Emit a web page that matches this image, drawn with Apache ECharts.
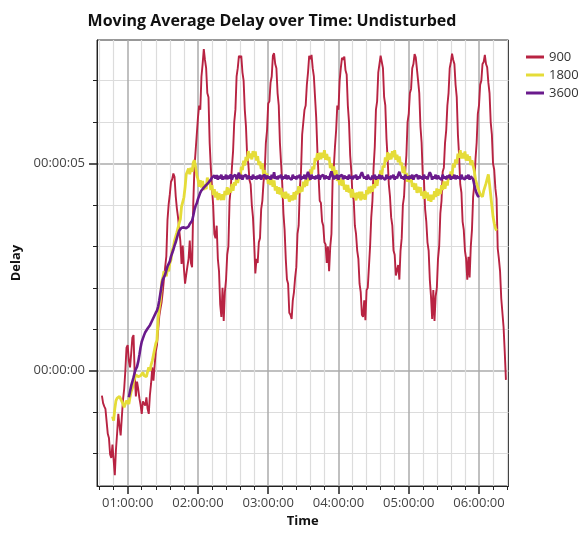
<!DOCTYPE html>
<html><head><meta charset="utf-8">
<script src="https://cdn.jsdelivr.net/npm/echarts@6/dist/echarts.min.js"></script>
<style>html,body{margin:0;padding:0;background:#fff}#c{width:580px;height:533px}</style>
</head><body><div id="c"></div>
<script>
// ---- data (time in minutes, delay in seconds) ----
const seriesNames = ['900', '1800', '3600'];

const start900 = 38; // minute of first value, one value per minute
const s900 = [
-0.60,-0.78,-0.86,-0.92,-1.22,-1.52,-1.62,-2.02,-2.10,-1.78,
-1.74,-2.52,-1.90,-1.50,-1.04,-1.32,-1.56,-1.12,-0.70,-0.44,
0.00,0.56,0.62,0.24,0.08,0.42,0.80,0.86,-0.10,-0.62,
-0.26,-0.44,-0.66,-0.82,-1.04,-0.74,-0.72,-0.84,-0.64,-0.92,
-1.04,-0.58,-0.30,0.08,-0.24,0.12,0.46,0.62,0.98,1.32,
1.50,1.66,1.92,2.22,2.50,2.76,3.64,4.02,4.26,4.56,
4.62,4.76,4.68,4.22,3.92,3.70,3.40,3.12,2.58,3.02,
2.48,2.10,2.32,2.52,2.70,3.14,2.60,2.50,4.02,4.90,
5.30,5.70,6.10,6.40,6.30,7.10,7.40,7.76,7.50,7.30,
6.70,6.60,5.50,4.90,4.40,4.00,3.30,3.20,3.50,2.70,
2.40,1.60,1.30,2.00,1.20,1.90,2.20,2.80,3.00,4.10,
4.40,4.90,5.30,6.00,6.30,7.10,7.30,7.60,7.55,7.60,
7.20,7.00,6.30,5.90,5.20,5.00,4.60,4.50,4.00,3.70,
3.10,2.35,2.70,2.60,3.10,3.20,3.90,4.10,4.55,4.80,
5.50,5.80,6.45,6.50,6.95,7.10,7.60,7.66,7.40,7.30,
6.70,6.40,5.50,5.00,4.50,3.80,3.40,2.70,2.20,2.10,
1.40,1.35,1.25,1.70,1.90,2.25,2.50,3.30,3.50,4.40,
4.80,5.70,5.70,6.30,6.40,6.90,7.20,7.60,7.52,7.62,
7.30,7.10,6.60,6.10,5.30,4.70,4.10,4.05,3.60,3.50,
3.10,3.05,2.60,3.00,2.40,3.00,3.30,4.60,4.90,5.40,
5.80,6.40,6.30,7.00,7.30,7.55,7.50,7.58,7.25,7.15,
6.40,6.00,5.20,4.80,4.20,4.15,3.50,3.30,2.90,2.70,
2.10,1.90,1.35,1.30,1.70,1.22,1.95,2.00,2.50,3.00,
3.70,4.10,4.90,5.40,6.30,6.50,7.20,7.40,7.60,7.45,
7.30,6.60,6.40,5.60,5.10,4.50,4.20,3.70,3.50,2.90,
2.80,2.30,2.30,2.55,2.20,2.90,3.20,4.00,4.20,4.80,
5.20,6.00,6.20,6.70,6.80,7.30,7.40,7.64,7.56,7.58,
7.00,6.70,5.90,5.50,4.70,4.60,3.90,3.60,3.10,2.90,
2.20,1.80,1.25,1.95,1.20,1.80,2.00,2.70,3.00,3.80,
4.10,4.80,4.90,5.50,5.80,6.40,6.70,7.30,7.45,7.65,
7.50,7.40,6.90,6.60,5.70,5.20,4.50,4.30,3.60,3.40,
2.90,2.70,2.20,2.75,2.25,3.00,3.40,4.20,4.50,5.10,
5.50,6.20,6.40,6.90,7.00,7.40,7.45,7.62,7.40,7.32,
6.95,6.70,6.00,5.70,5.00,4.85,4.40,4.15,2.95,2.70,
2.40,1.75,1.40,1.05,0.45,-0.22
];

const start1800 = 47;
const s1800 = [
-1.10,-1.20,-0.92,-0.72,-0.66,-0.70,-0.62,-0.66,-0.74,-0.80,
-0.88,-0.84,-0.72,-0.76,-0.80,-0.64,-0.50,-0.42,-0.26,-0.18,
-0.10,-0.06,-0.14,-0.18,-0.12,-0.08,-0.04,-0.12,-0.16,-0.14,
-0.02,0.08,0.00,0.14,0.24,0.28,0.52,0.66,0.74,1.26,
1.52,1.72,2.14,2.24,2.40,2.34,2.28,2.46,2.40,2.60,
2.68,2.90,2.98,3.14,3.12,3.34,3.36,3.56,3.66,3.96,
3.98,4.18,4.42,4.74,4.74,4.88,4.74,4.90,4.80,5.02,
5.08,4.92,4.72,4.62,4.44,4.60,4.42,4.58,4.36,4.50,
4.38,4.66,4.50,4.58,4.36,4.48,4.24,4.38,4.18,4.32,
4.12,4.28,
4.30,4.12,4.26,4.12,4.34,4.24,4.43,4.25,4.40,4.30,
4.51,4.34,4.55,4.47,4.67,4.53,4.71,4.63,4.92,4.84,
5.07,4.95,5.16,5.06,5.30,5.13,5.24,5.10,5.30,5.16,
5.29,5.07,5.18,4.96,5.05,4.87,5.00,4.73,4.84,4.68,
4.76,4.51,4.64,4.48,4.63,4.44,4.59,4.35,4.45,4.27,
4.43,4.25,4.41,4.18,4.31,4.15,4.32,4.16,4.27,4.08,
4.11,4.23,4.11,4.31,4.13,4.34,4.26,4.45,4.29,4.44,
4.32,4.56,4.43,4.61,4.46,4.66,4.58,4.86,4.75,4.93,
4.86,5.13,5.06,5.25,5.09,5.26,5.10,5.26,5.14,5.32,
5.09,5.23,5.08,5.16,4.89,5.00,4.81,4.93,4.71,4.84,
4.58,4.67,4.48,4.64,4.46,4.61,4.37,4.49,4.32,4.48,
4.30,4.39,4.18,4.38,4.18,4.29,4.11,4.30,4.16,4.32,
4.11,4.32,4.14,4.26,4.13,4.36,4.26,4.44,4.28,4.46,
4.32,4.50,4.41,4.63,4.46,4.68,4.63,4.83,4.70,4.95,
4.90,5.15,5.05,5.27,5.09,5.24,5.10,5.30,5.15,5.32,
5.09,5.21,5.03,5.17,4.96,5.02,4.77,4.93,4.69,4.77,
4.56,4.72,4.55,4.68,4.44,4.53,4.37,4.52,4.29,4.44,
4.30,4.43,4.22,4.32,4.15,4.34,4.16,4.30,4.10,4.25,
4.08,4.25,4.13,4.33,4.19,4.40,4.22,4.38,4.26,4.48,
4.36,4.57,4.39,4.57,4.47,4.71,4.62,4.81,4.70,5.00,
4.90,5.10,5.00,5.24,5.14,5.32,5.12,5.25,5.12,5.29,
5.07,5.22,5.07,5.18,
4.96,5.08,4.94,4.82,4.62,4.60,4.42,4.40,4.26,4.30,
4.20,4.34,4.36,4.52,4.56,4.74,4.50,4.24,3.98,3.72,
3.56,3.44,3.38
];

const start3600 = 61;
const s3600 = [
-0.64,-0.50,-0.36,-0.26,-0.16,-0.04,0.04,0.10,0.22,0.38,
0.56,0.70,0.78,0.86,0.93,0.96,1.02,1.06,1.10,1.16,
1.22,1.28,1.34,1.40,1.45,1.55,1.70,1.88,2.06,2.20,
2.26,2.32,2.42,2.52,2.58,2.64,2.76,2.84,2.92,3.02,
3.10,3.20,3.30,3.38,3.42,3.45,3.44,3.46,3.42,3.44,
3.45,3.48,3.54,3.58,3.62,3.74,3.88,3.98,4.04,4.14,
4.22,4.30,4.35,4.38,4.42,4.44,4.48,4.50,4.54,4.58,
4.61,4.66,4.63,4.71,4.64,4.72,4.61,4.70,4.64,4.73,
4.61,4.69,4.63,4.73,4.62,4.71,4.64,4.74,4.61,4.69,
4.65,4.73,4.62,4.69,4.78,4.63,4.73,4.61,4.69,4.65,
4.73,4.62,4.71,4.64,4.69,4.61,4.73,4.64,4.69,4.62,
4.71,4.64,4.73,4.61,4.69,4.65,4.73,4.62,4.71,4.64,
4.69,4.61,4.73,4.64,4.79,4.63,4.69,4.62,4.71,4.65,
4.73,4.61,4.69,4.64,4.73,4.62,4.71,4.65,4.69,4.61,
4.73,4.64,4.69,4.62,4.71,4.65,4.73,4.61,4.69,4.64,
4.73,4.62,4.71,4.80,4.69,4.61,4.73,4.64,4.69,4.62,
4.71,4.64,4.73,4.61,4.69,4.65,4.73,4.62,4.71,4.64,
4.69,4.61,4.73,4.81,4.69,4.62,4.71,4.64,4.73,4.61,
4.69,4.65,4.73,4.62,4.71,4.64,4.69,4.61,4.73,4.64,
4.69,4.62,4.71,4.65,4.73,4.61,4.69,4.64,4.73,4.79,
4.71,4.64,4.69,4.61,4.73,4.65,4.69,4.62,4.71,4.64,
4.73,4.61,4.69,4.64,4.73,4.62,4.71,4.65,4.69,4.61,
4.73,4.64,4.69,4.62,4.71,4.65,4.73,4.61,4.69,4.64,
4.73,4.80,4.71,4.64,4.69,4.61,4.73,4.64,4.69,4.62,
4.71,4.64,4.73,4.61,4.69,4.65,4.73,4.62,4.71,4.64,
4.69,4.61,4.73,4.64,4.69,4.62,4.71,4.79,4.73,4.61,
4.69,4.64,4.73,4.62,4.71,4.65,4.69,4.61,4.73,4.64,
4.69,4.62,4.71,4.65,4.73,4.61,4.69,4.64,4.73,4.62,
4.71,4.64,4.69,4.61,4.73,4.65,4.69,4.62,4.71,4.64,
4.73,4.61,4.69,4.65,4.62,4.48,4.36,4.28,4.22,4.19
];

// axis ticks (x in minutes, y in seconds)
const xRange = [33.8, 385.2];
const yRange = [-2.78, 7.98];
const xMajorTicks = [60, 120, 180, 240, 300, 360];
const xMinorTicks = [36, 48, 72, 84, 96, 108, 132, 144, 156, 168, 192, 204, 216, 228,
                     252, 264, 276, 288, 312, 324, 336, 348, 372, 384];
const yMajorTicks = [0, 5];
const yMinorTicks = [-2, -1, 1, 2, 3, 4, 6, 7];

// ---- chart ----
const FONT = 'Open Sans';
const colors = ['#b82342', '#e5dc38', '#6a1a8c'];
const pad = n => String(n).padStart(2, '0');
const fmtMin = m => { const s = Math.round(m * 60); return pad(Math.floor(s / 3600)) + ':' + pad(Math.floor(s % 3600 / 60)) + ':' + pad(s % 60); };
const fmtSec = v => { const s = Math.round(v); return '00:00:' + pad(s); };
const toPairs = (start, arr) => arr.map((v, i) => [start + i, v]);

const chart = echarts.init(document.getElementById('c'), null, {renderer: 'canvas'});
const baseX = {type: 'value', min: xRange[0], max: xRange[1], position: 'bottom', gridIndex: 0};
const baseY = {type: 'value', min: yRange[0], max: yRange[1], position: 'left', gridIndex: 0};
chart.setOption({
  animation: false,
  textStyle: {fontFamily: FONT},
  title: {
    text: 'Moving Average Delay over Time: Undisturbed',
    left: 267, top: 8, textAlign: 'center',
    textStyle: {fontFamily: FONT, fontWeight: 'bold', fontSize: 16, color: '#111'}
  },
  legend: {
    orient: 'vertical', left: 526, top: 50, padding: 0,
    icon: 'rect', itemWidth: 18, itemHeight: 3, itemGap: 4,
    textStyle: {fontFamily: FONT, fontSize: 13, color: '#333', lineHeight: 14},
    data: seriesNames
  },
  grid: {left: 97, right: 71.5, top: 40, bottom: 47, show: true, borderColor: '#333', borderWidth: 1, containLabel: false},
  xAxis: [
    Object.assign({}, baseX, {
      axisLine: {show: true, onZero: false, lineStyle: {color: '#222', width: 1}},
      axisTick: {show: true, inside: false, length: 4, customValues: xMinorTicks, lineStyle: {color: '#222'}},
      axisLabel: {show: false},
      splitLine: {show: true, lineStyle: {color: '#dcdcdc', width: 1.2}}
    }),
    Object.assign({}, baseX, {
      name: 'Time', nameLocation: 'middle', nameGap: 27,
      nameTextStyle: {fontFamily: FONT, fontWeight: 'bold', fontSize: 13, color: '#111'},
      axisLine: {show: false, onZero: false},
      axisTick: {show: true, inside: false, length: 8, customValues: xMajorTicks, lineStyle: {color: '#222', width: 1.5}},
      axisLabel: {show: true, customValues: xMajorTicks, formatter: fmtMin, margin: 11, fontSize: 13, color: '#444', fontFamily: FONT},
      splitLine: {show: true, lineStyle: {color: '#ababab', width: 1.5}}
    })
  ],
  yAxis: [
    Object.assign({}, baseY, {
      axisLine: {show: true, onZero: false, lineStyle: {color: '#222', width: 1}},
      axisTick: {show: true, inside: false, length: 4, customValues: yMinorTicks, lineStyle: {color: '#222'}},
      axisLabel: {show: false},
      splitLine: {show: true, lineStyle: {color: '#dcdcdc', width: 1.2}}
    }),
    Object.assign({}, baseY, {
      name: 'Delay', nameLocation: 'middle', nameGap: 69, nameRotate: 90,
      nameTextStyle: {fontFamily: FONT, fontWeight: 'bold', fontSize: 13, color: '#111'},
      axisLine: {show: false, onZero: false},
      axisTick: {show: true, inside: false, length: 8, customValues: yMajorTicks, lineStyle: {color: '#222', width: 1.5}},
      axisLabel: {show: true, customValues: yMajorTicks, formatter: fmtSec, margin: 12, fontSize: 13, color: '#444', fontFamily: FONT},
      splitLine: {show: true, lineStyle: {color: '#ababab', width: 1.5}}
    })
  ],
  series: [
    {name: seriesNames[0], type: 'line', xAxisIndex: 0, yAxisIndex: 0, data: toPairs(start900, s900),
     symbol: 'none', lineStyle: {width: 1.9, color: colors[0]}, itemStyle: {color: colors[0]}, z: 2},
    {name: seriesNames[1], type: 'line', xAxisIndex: 0, yAxisIndex: 0, data: toPairs(start1800, s1800),
     symbol: 'none', lineStyle: {width: 2.8, color: colors[1]}, itemStyle: {color: colors[1]}, z: 3},
    {name: seriesNames[2], type: 'line', xAxisIndex: 0, yAxisIndex: 0, data: toPairs(start3600, s3600),
     symbol: 'none', lineStyle: {width: 2.6, color: colors[2]}, itemStyle: {color: colors[2]}, z: 4}
  ]
});
</script>
</body></html>
